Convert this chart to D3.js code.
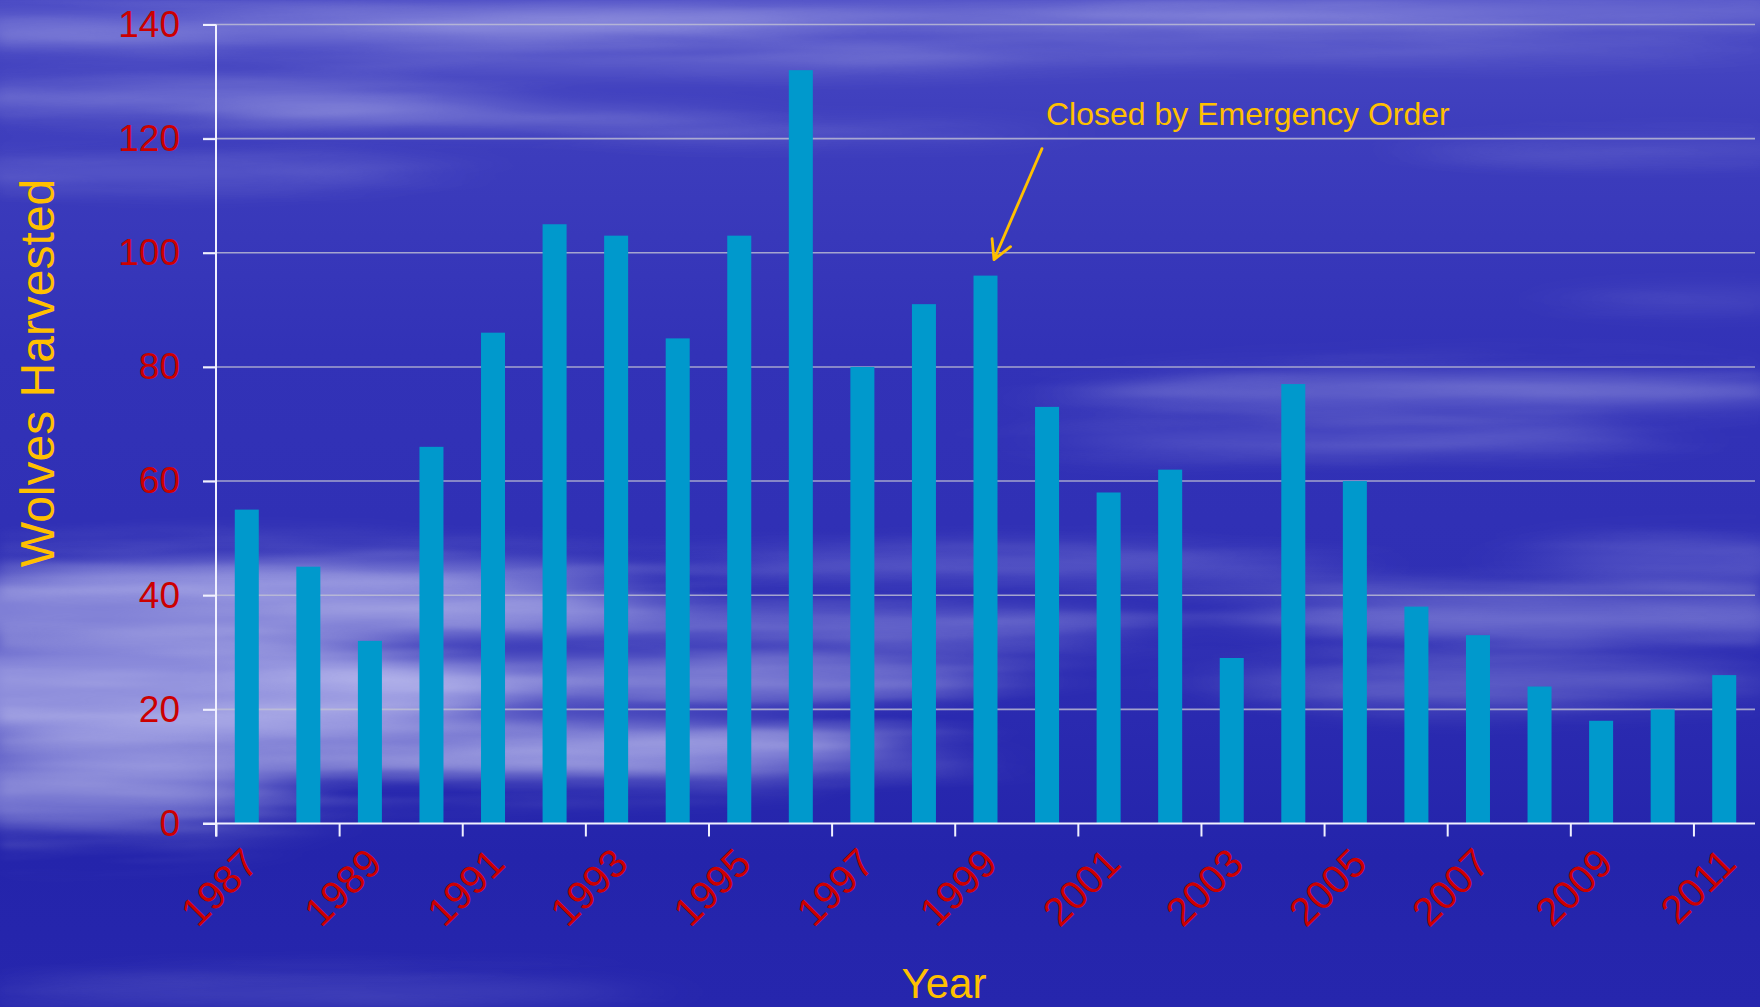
<!DOCTYPE html>
<html>
<head>
<meta charset="utf-8">
<script src="https://cdn.jsdelivr.net/npm/d3@7"></script>
<style>
  html, body { margin: 0; padding: 0; background: #2a2ab0; overflow: hidden; }
  svg { display: block; font-family: "Liberation Sans", Arial, sans-serif; }
</style>
</head>
<body>
<svg id="chart" width="1760" height="1007"></svg>
<script>
// ---------- data ----------
const years = ["1987","1988","1989","1990","1991","1992","1993","1994","1995","1996","1997","1998","1999",
               "2000","2001","2002","2003","2004","2005","2006","2007","2008","2009","2010","2011"];
const wolvesHarvested = [55,45,32,66,86,105,103,85,103,132,80,91,96,73,58,62,29,77,60,38,33,24,18,20,26];
const yTickValues = [0,20,40,60,80,100,120,140];
const xTickLabels = ["1987","1989","1991","1993","1995","1997","1999","2001","2003","2005","2007","2009","2011"];
const yAxisTitle = "Wolves Harvested";
const xAxisTitle = "Year";
const annotationText = "Closed by Emergency Order";
const annotationYear = "1999";

// ---------- decoration (background clouds) ----------
const cloudBlobs = [
  [300,30,520,14,0.30],[900,18,620,12,0.26],[1500,12,420,12,0.28],[200,100,320,12,0.30],
  [480,118,260,9,0.28],[650,62,320,9,0.22],[1250,50,520,9,0.16],[150,172,260,12,0.20],
  [820,132,220,7,0.16],[1650,150,200,10,0.14],
  [220,610,420,34,0.50],[150,690,360,46,0.58],[420,745,460,28,0.50],[80,790,200,36,0.45],
  [620,680,360,24,0.40],[820,625,320,18,0.28],[1020,565,320,14,0.20],[320,575,320,18,0.38],
  [700,760,260,16,0.26],
  [1470,392,360,18,0.26],[1360,440,300,13,0.20],[1560,618,300,22,0.30],[1500,682,260,18,0.24],
  [1700,560,160,18,0.20],[1700,300,120,10,0.12],
  [320,992,320,14,0.14]
];

const W = 1760, H = 1007;
const svg = d3.select("#chart");
const defs = svg.append("defs");

const bg = defs.append("linearGradient").attr("id","bgGrad").attr("x1",0).attr("y1",0).attr("x2",0).attr("y2",1);
[[0,"#4a4ac4"],[0.12,"#3e3ebd"],[0.35,"#3232b7"],[0.6,"#2f2fb4"],[0.85,"#2424ab"],[1,"#2626ad"]]
  .forEach(([o,c]) => bg.append("stop").attr("offset",o).attr("stop-color",c));

const blur = defs.append("filter").attr("id","cloudBlur").attr("x","-50%").attr("y","-200%").attr("width","200%").attr("height","500%");
blur.append("feGaussianBlur").attr("stdDeviation","45 10");

const streak = defs.append("filter").attr("id","streaks").attr("x",0).attr("y",0).attr("width","100%").attr("height","100%")
  .attr("filterUnits","userSpaceOnUse");
streak.append("feTurbulence").attr("type","fractalNoise").attr("baseFrequency","0.0025 0.04").attr("numOctaves",3).attr("seed",7);
streak.append("feColorMatrix").attr("type","matrix")
  .attr("values","0 0 0 0 0.9  0 0 0 0 0.9  0 0 0 0 1  0 0 0 1.6 -0.55");
streak.append("feGaussianBlur").attr("stdDeviation","6 1.5");

const mask = defs.append("mask").attr("id","cloudMask").attr("maskUnits","userSpaceOnUse")
  .attr("x",0).attr("y",0).attr("width",W).attr("height",H);
mask.append("rect").attr("width",W).attr("height",H).attr("fill","black");
mask.append("g").attr("filter","url(#cloudBlur)").selectAll("ellipse").data(cloudBlobs).join("ellipse")
  .attr("cx",d=>d[0]).attr("cy",d=>d[1]).attr("rx",d=>d[2]*1.2).attr("ry",d=>d[3]*2.2)
  .attr("fill","white").attr("fill-opacity",d=>Math.min(1,d[4]*1.8));

svg.append("rect").attr("width",W).attr("height",H).attr("fill","url(#bgGrad)");
svg.append("g").attr("filter","url(#cloudBlur)").selectAll("ellipse").data(cloudBlobs).join("ellipse")
  .attr("cx",d=>d[0]).attr("cy",d=>d[1]).attr("rx",d=>d[2]).attr("ry",d=>d[3])
  .attr("fill","#cfcff8").attr("fill-opacity",d=>d[4]);
svg.append("rect").attr("width",W).attr("height",H).attr("filter","url(#streaks)")
  .attr("mask","url(#cloudMask)").attr("opacity",0.32);

// ---------- scales ----------
const plotLeft = 216, plotRight = 1755, plotTop = 24.5, plotBottom = 823.5;
const x = d3.scaleBand().domain(years).range([plotLeft, plotRight]).paddingInner(0.61).paddingOuter(0.305);
const y = d3.scaleLinear().domain([0,140]).range([plotBottom, plotTop]);
const xi = d3.scaleLinear().domain([0, years.length]).range([plotLeft, plotRight]);

// gridlines
svg.append("g").selectAll("line").data(yTickValues.filter(v => v > 0)).join("line")
  .attr("x1", plotLeft - 13).attr("x2", plotRight)
  .attr("y1", d => y(d)).attr("y2", d => y(d))
  .attr("stroke", "#c0c0d4").attr("stroke-opacity",0.8).attr("stroke-width", 1.6);

// bars
svg.append("g").selectAll("rect").data(years).join("rect")
  .attr("x", d => x(d)).attr("width", x.bandwidth())
  .attr("y", (d,i) => y(wolvesHarvested[i]))
  .attr("height", (d,i) => y(0) - y(wolvesHarvested[i]))
  .attr("fill", "#0099cc");

// y axis
const yAxis = svg.append("g").attr("transform", `translate(${plotLeft},0)`)
  .call(d3.axisLeft(y).tickValues(yTickValues).tickSize(13).tickPadding(23).tickSizeOuter(0));
yAxis.select(".domain").remove();
yAxis.append("line").attr("x1",0).attr("x2",0).attr("y1",plotTop).attr("y2",plotBottom+13)
  .attr("stroke","#f0f0ff").attr("stroke-width",2);
yAxis.selectAll(".tick line").attr("stroke","#f0f0ff").attr("stroke-width",2);
yAxis.selectAll(".tick text").attr("fill","#cc0000").attr("font-size",37)
  .attr("font-family","'Liberation Sans', Arial, sans-serif");

// x axis (ticks at every other category boundary)
const xAxis = svg.append("g").attr("transform", `translate(0,${plotBottom})`)
  .call(d3.axisBottom(xi).tickValues(d3.range(0, years.length, 2)).tickSize(13).tickFormat("").tickSizeOuter(0));
xAxis.select(".domain").remove();
xAxis.append("line").attr("x1",plotLeft-13).attr("x2",plotRight).attr("y1",0).attr("y2",0)
  .attr("stroke","#f0f0ff").attr("stroke-width",2);
xAxis.selectAll(".tick line").attr("stroke","#f0f0ff").attr("stroke-width",2);

// x tick labels
svg.append("g").selectAll("text").data(xTickLabels).join("text")
  .attr("transform", d => `translate(${x(d) + x.bandwidth()/2 + 14},${plotBottom + 42}) rotate(-45)`)
  .attr("text-anchor","end")
  .attr("fill","#cc0000").attr("font-size",40)
  .text(d => d);

// axis titles
svg.append("text").attr("transform", `translate(54,373) rotate(-90)`)
  .attr("text-anchor","middle").attr("fill","#ffc000").attr("font-size",48).text(yAxisTitle);
svg.append("text").attr("x", 944).attr("y", 998)
  .attr("text-anchor","middle").attr("fill","#ffc000").attr("font-size",42).text(xAxisTitle);

// annotation
const ai = years.indexOf(annotationYear);
const tipX = x(annotationYear) + x.bandwidth()/2 + 8.5;
const tipY = y(wolvesHarvested[ai]) - 16;
const tailX = tipX + 48, tailY = tipY - 111;
svg.append("text").attr("x", tailX + 4).attr("y", tailY - 23.5)
  .attr("fill","#ffc000").attr("font-size",32).text(annotationText);
const ang = Math.atan2(tipY - tailY, tipX - tailX);
const ah = 21, spread = 0.5;
svg.append("path")
  .attr("d", `M${tailX},${tailY}L${tipX},${tipY}` +
             `M${tipX - ah*Math.cos(ang - spread)},${tipY - ah*Math.sin(ang - spread)}L${tipX},${tipY}` +
             `L${tipX - ah*Math.cos(ang + spread)},${tipY - ah*Math.sin(ang + spread)}`)
  .attr("fill","none").attr("stroke","#ffc000").attr("stroke-width",2.8)
  .attr("stroke-linecap","round").attr("stroke-linejoin","round");
</script>
</body>
</html>
